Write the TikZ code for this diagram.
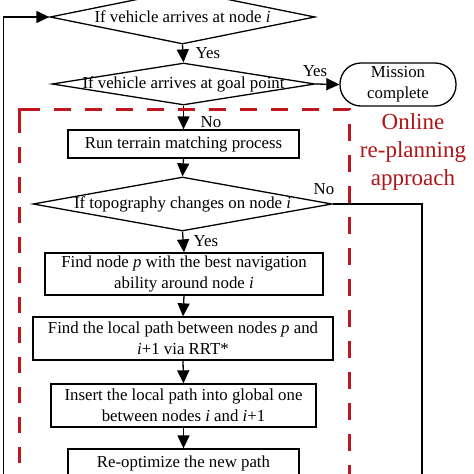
\documentclass[tikz,border=0pt]{standalone}
\usepackage{fontspec}
\setmainfont{Liberation Serif}
\usetikzlibrary{shapes.geometric,arrows.meta}
\definecolor{redline}{RGB}{192,22,32}
\definecolor{redtext}{RGB}{175,20,25}
\newcommand\myfs{\fontsize{16.8}{21}\selectfont}
\newcommand\bigfs{\fontsize{23}{28}\selectfont}
\begin{document}
\begin{tikzpicture}[x=1pt,y=-1pt,line width=1.3pt,
  >={Triangle[width=12pt,length=13pt]},
  dia/.style={diamond,draw,aspect=5,inner sep=0pt,font=\myfs},
  box/.style={rectangle,draw,inner sep=0pt,align=center,font=\myfs},
  lab/.style={font=\myfs,inner sep=0pt},
  redframe/.style={draw=redline,line width=3pt}]
\clip (0,0) rectangle (474,474);
\fill[white] (0,0) rectangle (474,474);
% nodes
\node[dia,minimum width=265pt,minimum height=54pt] (d1) at (182.5,17)
  {\makebox[0pt]{If vehicle arrives at node \textit{i}}};
\node[dia,minimum width=263pt,minimum height=42pt] (d2) at (183.5,84)
  {\makebox[0pt]{If vehicle arrives at goal point}};
\node[box,rounded corners=21pt,minimum width=116pt,minimum height=43pt] (mission) at (398,84.5)
  {Mission\\complete};
\node[box,minimum width=231pt,minimum height=28pt] (run) at (183.5,144)
  {Run terrain matching process};
\node[dia,minimum width=299pt,minimum height=54pt] (d3) at (182.5,204)
  {\makebox[0pt]{If topography changes on node \textit{i}}};
\node[box,minimum width=278pt,minimum height=42pt] (b4) at (184,274)
  {Find node \textit{p} with the best navigation\\ability around node \textit{i}};
\node[box,minimum width=300pt,minimum height=43pt] (b5) at (183,338.5)
  {Find the local path between nodes \textit{p} and\\\textit{i}+1 via RRT*};
\node[box,minimum width=265pt,minimum height=43pt] (b6) at (183.5,405.5)
  {Insert the local path into global one\\between nodes \textit{i} and \textit{i}+1};
\node[box,minimum width=231pt,minimum height=52pt] (b7) at (183.5,475)
  {Re-optimize the new path\\\strut};
\node[font=\bigfs,text=redtext,align=center,inner sep=0pt] (online) at (413,152)
  {Online\\re-planning\\approach};
% labels
\node[lab,anchor=west] (y1) at (195,53) {Yes};
\node[lab] (y2) at (315,71) {Yes};
\node[lab,anchor=west] (n1) at (200,122) {No};
\node[lab] (n2) at (324,189) {No};
\node[lab,anchor=west] (y3) at (193,241) {Yes};
% coordinates
\coordinate (lb) at (3.5,500);
\coordinate (lc) at (3.5,17);
\coordinate (rc) at (422,204);
\coordinate (rb) at (422,500);
% connectors
\draw[->] (d1.south) -- (d2.north);
\draw[->] (d2.east) -- (mission.west);
\draw[->] (d2.south) -- (run.north);
\draw[->] (run.south) -- (d3.north);
\draw (d3.east) -- (rc) -- (rb);
\draw[->] (lb) -- (lc) -- (d1.west);
\draw[->] (d3.south) -- (b4.north);
\draw[->] (b4.south) -- (b5.north);
\draw[->] (b5.south) -- (b6.north);
\draw[->] (b6.south) -- (b7.north);
% red dashed frame
\coordinate (f1) at (19,133);
\coordinate (f2) at (19,109);
\coordinate (f3) at (40,109);
\coordinate (f4) at (349,109);
\coordinate (f5) at (349,500);
\coordinate (f6) at (19,147);
\coordinate (f7) at (19,500);
\draw[redframe] (f1) -- (f2) -- (f3);
\draw[redframe,dash pattern=on 17pt off 14pt,dash phase=17pt] (f3) -- (f4) -- (f5);
\draw[redframe,dash pattern=on 16pt off 14pt] (f6) -- (f7);
\end{tikzpicture}
\end{document}
